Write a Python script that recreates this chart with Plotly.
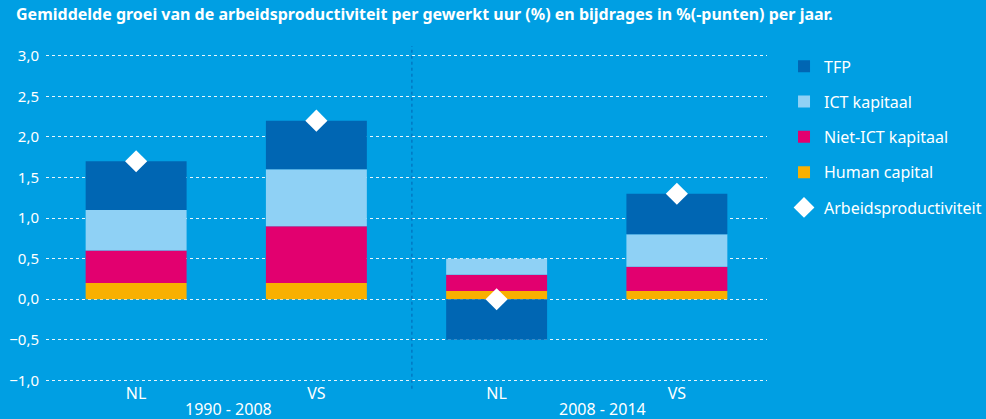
import plotly.graph_objects as go

categories = ["NL", "VS", "NL", "VS"]
periods = ["1990 - 2008", "2008 - 2014"]
human_capital = [0.2, 0.2, 0.1, 0.1]
niet_ict = [0.4, 0.7, 0.2, 0.3]
ict = [0.5, 0.7, 0.2, 0.4]
tfp = [0.6, 0.6, -0.5, 0.5]
arbeidsproductiviteit = [1.7, 2.2, 0.0, 1.3]
y_ticks = [-1.0, -0.5, 0.0, 0.5, 1.0, 1.5, 2.0, 2.5, 3.0]

BG = "#009FE3"
FONT = "Noto Sans"
xpos = list(range(len(categories)))

fig = go.Figure()
series = [
    ("Human capital", human_capital, "#F9B000", 4),
    ("Niet-ICT kapitaal", niet_ict, "#E2006F", 3),
    ("ICT kapitaal", ict, "#8FD1F5", 2),
    ("TFP", tfp, "#0066B3", 1),
]
for name, vals, col, rank in series:
    fig.add_trace(go.Bar(
        x=xpos, y=vals, name=name, marker=dict(color=col, line=dict(width=0)),
        width=0.56, legendrank=rank, legendgroup=name,
    ))
fig.add_trace(go.Scatter(
    x=xpos, y=arbeidsproductiviteit, name="Arbeidsproductiviteit", mode="markers",
    marker=dict(symbol="diamond", size=17, color="white", line=dict(width=0)),
    legendrank=5, legendgroup="ap",
))

fig.update_layout(
    barmode="relative",
    width=986, height=419,
    paper_bgcolor=BG, plot_bgcolor=BG,
    margin=dict(l=46, r=219, t=46, b=37, autoexpand=False),
    separators=",.",
    font=dict(family=FONT, color="white", size=15),
    title=dict(
        text="<b>Gemiddelde groei van de arbeidsproductiviteit per gewerkt uur (%) en bijdrages in %(-punten) per jaar.</b>",
        x=16 / 986, xanchor="left", xref="container",
        y=1 - 14 / 419, yanchor="middle", yref="container",
        font=dict(family=FONT, size=16, color="white"),
    ),
    xaxis=dict(
        range=[-0.5, 3.5], tickmode="array", tickvals=xpos, ticktext=categories,
        showgrid=False, zeroline=False, showline=False, ticks="",
        tickfont=dict(size=16, color="white"), fixedrange=True,
    ),
    yaxis=dict(
        range=[-1.02, 3.12], tickmode="array", tickvals=y_ticks, tickformat=".1f",
        showgrid=True, gridcolor="rgba(255,255,255,0.9)", griddash="dot", gridwidth=1,
        zeroline=False, showline=False, ticks="", ticklabelstandoff=6,
        tickfont=dict(size=15, color="white"), fixedrange=True,
    ),
    legend=dict(
        x=1.0236, xanchor="left", y=0.99, yanchor="top",
        bgcolor="rgba(0,0,0,0)", font=dict(size=16, color="white"),
        tracegroupgap=11.5, itemclick=False,
    ),
    showlegend=True,
)

fig.add_shape(type="line", xref="x", yref="paper", x0=1.53, x1=1.53, y0=-0.02, y1=1.0,
              line=dict(color="#0066B3", width=1, dash="dot"))

for i, p in enumerate(periods):
    fig.add_annotation(text=p, xref="x", yref="paper", x=[0.51, 2.585][i], y=-0.08,
                       showarrow=False, yanchor="middle", xanchor="center",
                       font=dict(size=16, color="white", family=FONT))

fig.write_html("out.html", config={"displayModeBar": False},
               post_script="document.body.style.margin='0';document.body.style.background='#009FE3';")
